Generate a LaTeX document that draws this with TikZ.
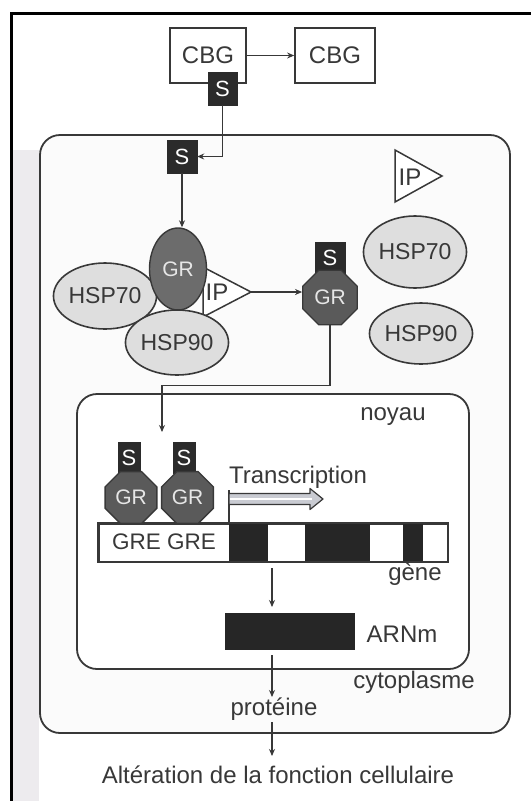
\documentclass[tikz,border=0pt]{standalone}
\usepackage{fontspec}
\setmainfont{Liberation Sans}
\usetikzlibrary{shapes.geometric,arrows.meta,calc}
\definecolor{ink}{HTML}{383838}
\definecolor{sdark}{HTML}{2B2B2B}
\definecolor{grdark}{HTML}{5A5A5A}
\definecolor{grell}{HTML}{6C6C6C}
\definecolor{hspfill}{HTML}{DEDEDE}
\definecolor{blk}{HTML}{262626}
\definecolor{lighttext}{HTML}{E6E6E6}
\definecolor{strip}{HTML}{EDEBEE}
\definecolor{arrfill}{HTML}{C9CBD2}
\begin{document}
\begin{tikzpicture}[x=1pt,y=-1pt,
  font=\fontsize{24}{28}\selectfont,
  lbl/.style={inner sep=0pt, text=ink},
  cbgbox/.style={draw=ink, line width=1.7pt, fill=white, inner sep=0pt, text=ink},
  sbox/.style={fill=sdark, draw=sdark, text=white, inner sep=0pt, font=\fontsize{22}{26}\selectfont},
  hsp/.style={ellipse, draw=ink, line width=1.6pt, fill=hspfill, inner sep=0pt, text=ink, font=\fontsize{23}{27}\selectfont},
  grel/.style={ellipse, draw=ink, line width=1.4pt, fill=grell, inner sep=0pt, text=lighttext, font=\fontsize{21}{25}\selectfont},
  octa/.style={regular polygon, regular polygon sides=8, draw=ink, line width=1.3pt, fill=grdark, inner sep=0pt, text=lighttext, font=\fontsize{21}{25}\selectfont},
  tri/.style={draw=ink, line width=1.5pt, fill=white},
  conn/.style={draw=ink, line width=1.4pt, -{Stealth[length=7pt,width=6pt]}},
  plain/.style={draw=ink, line width=1.4pt},
  cell/.style={draw=ink, line width=1.8pt, rounded corners=20pt}]
\useasboundingbox (0,0) rectangle (531,801);
\fill[white] (0,0) rectangle (531,801);
\fill[strip] (12.5,150) rectangle (39,801);
\draw[line width=3pt, black] (11,801) -- (11,13) -- (531,13);

% top
\node[cbgbox, minimum width=76pt, minimum height=55pt] (cbg1) at (208,55.5) {CBG};
\node[cbgbox, minimum width=80pt, minimum height=55pt] (cbg2) at (335,55.5) {CBG};
\node[sbox, minimum width=29pt, minimum height=33pt] (s1) at (222.5,88.5) {S};
\draw[conn] (cbg1) -- (cbg2);

% cell
\draw[cell, fill=white!97!gray] (40,135) rectangle (510,733);
\node[sbox, minimum width=30pt, minimum height=33pt] (s2) at (182,156.5) {S};
\draw[conn] (s1.south) |- (s2.east);

% IP free
\draw[tri] (395,150) -- (395,202) -- (442,176) -- cycle;
\node[lbl] (ip1) at (410,177) {IP};

% left complex
\draw[tri] (203,267) -- (203,317) -- (251,292) -- cycle;
\coordinate (ip2tip) at (251,292);
\node[hsp, minimum width=100pt, minimum height=66pt] (h70L) at (105,296) {HSP70};
\node[grel, minimum width=57pt, minimum height=82pt] (grL) at (178,269) {GR};
\node[hsp, minimum width=100pt, minimum height=65pt] (h90L) at (177,342.5) {HSP90};
\node[lbl] (ip2) at (217,292) {IP};
\draw[conn] (s2.south) -- (s2.south |- grL.north);

% middle complex
\node[sbox, minimum width=30pt, minimum height=32pt] (sM) at (330,258) {S};
\node[octa, minimum size=59pt] (grM) at (330,297.5) {GR};
\draw[conn] (ip2tip) -- (ip2tip -| grM.west);

% free HSPs
\node[hsp, minimum width=92pt, minimum height=72pt] (h70R) at (415,252) {HSP70};
\node[hsp, minimum width=102pt, minimum height=61pt] (h90R) at (421,333.5) {HSP90};

% nucleus
\draw[cell, fill=white] (77,394) rectangle (469,669);
\coordinate (drop) at (162,432);
\draw[conn] (grM.south) -- ++(0,60) -| (drop);
\node[lbl, anchor=base] (noyau) at (393,420) {noyau};

% gene bar
\node[draw=ink, line width=1.6pt, fill=white, minimum width=349pt, minimum height=38pt, inner sep=0pt, anchor=north west] (gene) at (98,523) {};
\fill[blk] (229,523) rectangle (268,561);
\fill[blk] (305,523) rectangle (370,561);
\fill[blk] (403,523) rectangle (423,561);
\draw[ink, line width=1.6pt] (gene.north west) rectangle (gene.south east);
\node[lbl, font=\fontsize{22.5}{26}\selectfont] (gre) at (164,542) {GRE GRE};

% bound receptors
\node[sbox, minimum width=22pt, minimum height=31pt] (sA) at (129,458) {S};
\node[octa, minimum size=56pt] (grA) at (131,497.5) {GR};
\node[sbox, minimum width=22pt, minimum height=31pt] (sB) at (184,458) {S};
\node[octa, minimum size=56pt] (grB) at (187.5,497.5) {GR};

% transcription
\coordinate (tsA) at (229,523);
\coordinate (tsB) at (229,490);
\draw[plain] (tsA) -- (tsB);
\draw[ink, line width=1.2pt, fill=arrfill, line join=round] (229,493.5) -- (310,493.5) -- (310,488.5) -- (323,499) -- (310,509.5) -- (310,504.5) -- (229,504.5) -- cycle;
\draw[white, line width=1.2pt] (230,499) -- (312,499);
\node[lbl, anchor=base] (trans) at (298,483) {Transcription};
\node[lbl, anchor=base] (gtxt) at (415,580) {gène};

% mRNA
\coordinate (g1) at (272,568);
\coordinate (g2) at (272,607);
\draw[conn] (g1) -- (g2);
\node[fill=blk, minimum width=130pt, minimum height=37pt, inner sep=0pt] (arnm) at (290,631.5) {};
\node[lbl, anchor=base] (arnmtxt) at (402,642) {ARNm};

% cytoplasm
\node[lbl, anchor=base] (cyto) at (414,688) {cytoplasme};
\node[lbl, anchor=base] (prot) at (274,715) {protéine};
\coordinate (p1) at (272,655);
\coordinate (p2) at (272,697);
\draw[conn] (p1) -- (p2);
\coordinate (q1) at (272,722);
\coordinate (q2) at (272,756);
\draw[conn] (q1) -- (q2);
\node[lbl, anchor=base] (alt) at (278,783) {Altération de la fonction cellulaire};
\end{tikzpicture}
\end{document}
